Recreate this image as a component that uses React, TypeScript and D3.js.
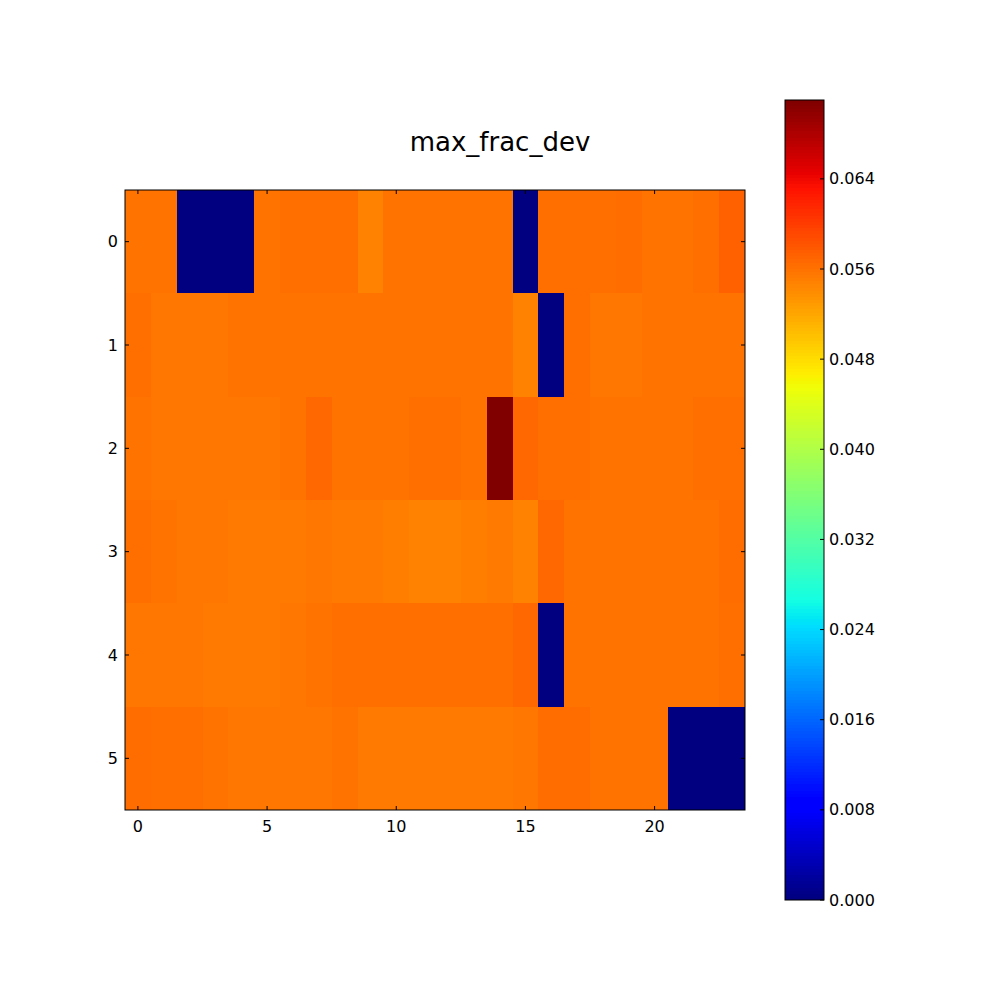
import React from "react";
import * as d3 from "d3";

const title = "max_frac_dev";
const rowLabels = [0, 1, 2, 3, 4, 5];
const xTickValues = [0, 5, 10, 15, 20];
const cbTicks = [0.0, 0.008, 0.016, 0.024, 0.032, 0.04, 0.048, 0.056, 0.064];
const vmin = 0;
const vmax = 0.071;

const row0 = [0.0560, 0.0558, 0, 0, 0, 0.0558, 0.0562, 0.0563, 0.0563, 0.0548, 0.0560, 0.0560, 0.0560, 0.0558, 0.0558, 0, 0.0563, 0.0563, 0.0561, 0.0565, 0.0560, 0.0560, 0.0563, 0.0572];
const row1 = [0.0563, 0.0556, 0.0556, 0.0556, 0.0560, 0.0558, 0.0560, 0.0560, 0.0560, 0.0558, 0.0558, 0.0558, 0.0558, 0.0560, 0.0560, 0.0548, 0, 0.0562, 0.0555, 0.0555, 0.0558, 0.0558, 0.0558, 0.0558];
const row2 = [0.0558, 0.0555, 0.0555, 0.0555, 0.0555, 0.0556, 0.0560, 0.0568, 0.0560, 0.0558, 0.0558, 0.0561, 0.0561, 0.0558, 0.0710, 0.0566, 0.0563, 0.0563, 0.0560, 0.0560, 0.0560, 0.0560, 0.0563, 0.0563];
const row3 = [0.0563, 0.0560, 0.0556, 0.0556, 0.0554, 0.0554, 0.0554, 0.0556, 0.0554, 0.0552, 0.0550, 0.0548, 0.0548, 0.0550, 0.0552, 0.0548, 0.0566, 0.0560, 0.0558, 0.0558, 0.0558, 0.0558, 0.0558, 0.0565];
const row4 = [0.0555, 0.0555, 0.0555, 0.0552, 0.0552, 0.0552, 0.0555, 0.0560, 0.0563, 0.0561, 0.0561, 0.0561, 0.0561, 0.0561, 0.0561, 0.0566, 0, 0.0558, 0.0558, 0.0558, 0.0558, 0.0560, 0.0560, 0.0563];
const row5 = [0.0565, 0.0561, 0.0561, 0.0558, 0.0556, 0.0555, 0.0555, 0.0556, 0.0558, 0.0553, 0.0553, 0.0552, 0.0552, 0.0552, 0.0553, 0.0555, 0.0565, 0.0565, 0.0560, 0.0558, 0.0558, 0, 0, 0];
const rows = [row0, row1, row2, row3, row4, row5];

// matplotlib jet colormap
const jetSeg: Record<string, [number, number][]> = {
  r: [[0, 0], [0.35, 0], [0.66, 1], [0.89, 1], [1, 0.5]],
  g: [[0, 0], [0.125, 0], [0.375, 1], [0.64, 1], [0.91, 0], [1, 0]],
  b: [[0, 0.5], [0.11, 1], [0.34, 1], [0.65, 0], [1, 0]],
};
function seg(pts: [number, number][], t: number) {
  for (let i = 1; i < pts.length; i++) {
    if (t <= pts[i][0]) {
      const [x0, y0] = pts[i - 1];
      const [x1, y1] = pts[i];
      return y0 + ((t - x0) / (x1 - x0)) * (y1 - y0);
    }
  }
  return pts[pts.length - 1][1];
}
function jet(t: number) {
  const tt = Math.max(0, Math.min(1, t));
  const q = Math.min(255, Math.floor(tt * 256)) / 255;
  const r = Math.round(seg(jetSeg.r, q) * 255);
  const g = Math.round(seg(jetSeg.g, q) * 255);
  const b = Math.round(seg(jetSeg.b, q) * 255);
  return `rgb(${r},${g},${b})`;
}

export default function App() {
  const W = 1000, H = 1000;
  const left = 125, right = 745, top = 190, bottom = 810;
  const nCols = row0.length;
  const x = d3.scaleLinear().domain([-0.5, nCols - 0.5]).range([left, right]);
  const y = d3.scaleLinear().domain([-0.5, rows.length - 0.5]).range([top, bottom]);
  const norm = d3.scaleLinear().domain([vmin, vmax]).range([0, 1]);

  const cbLeft = 785, cbRight = 824, cbTop = 100, cbBottom = 900;
  const cy = d3.scaleLinear().domain([vmin, vmax]).range([cbBottom, cbTop]);
  const nLevels = 256;
  const levels = d3.range(nLevels).map((i) => vmin + ((vmax - vmin) * i) / nLevels);
  const step = (vmax - vmin) / nLevels;

  const font = "DejaVu Sans, sans-serif";
  const tickLen = 4;

  return (
    <svg width={W} height={H} style={{ position: "absolute", left: 0, top: 0, background: "#fff" }}>
      <rect x={0} y={0} width={W} height={H} fill="#fff" />
      <text x={500} y={151} textAnchor="middle" fontFamily={font} fontSize={26} fill="#000">
        {title}
      </text>
      <g shapeRendering="crispEdges">
        {rows.map((row, ri) =>
          row.map((v, ci) => (
            <rect
              key={`${ri}-${ci}`}
              x={Math.round(x(ci - 0.5))}
              y={Math.round(y(ri - 0.5))}
              width={Math.round(x(ci + 0.5)) - Math.round(x(ci - 0.5))}
              height={Math.round(y(ri + 0.5)) - Math.round(y(ri - 0.5))}
              fill={jet(norm(v))}
            />
          ))
        )}
      </g>
      <rect x={left} y={top} width={right - left} height={bottom - top} fill="none" stroke="#000" strokeWidth={1} />
      {xTickValues.map((t) => (
        <g key={`xt${t}`}>
          <line x1={x(t)} x2={x(t)} y1={bottom} y2={bottom - tickLen} stroke="#000" />
          <line x1={x(t)} x2={x(t)} y1={top} y2={top + tickLen} stroke="#000" />
          <text x={x(t)} y={bottom + 22} textAnchor="middle" fontFamily={font} fontSize={16} fill="#000">
            {t}
          </text>
        </g>
      ))}
      {rowLabels.map((t) => (
        <g key={`yt${t}`}>
          <line x1={left} x2={left + tickLen} y1={y(t)} y2={y(t)} stroke="#000" />
          <line x1={right} x2={right - tickLen} y1={y(t)} y2={y(t)} stroke="#000" />
          <text x={left - 7} y={y(t)} dy="0.35em" textAnchor="end" fontFamily={font} fontSize={16} fill="#000">
            {t}
          </text>
        </g>
      ))}
      <g shapeRendering="crispEdges">
        {levels.map((v, i) => (
          <rect
            key={`cb${i}`}
            x={cbLeft}
            y={Math.round(cy(v + step))}
            width={cbRight - cbLeft}
            height={Math.round(cy(v)) - Math.round(cy(v + step))}
            fill={jet(norm(v + step / 2))}
          />
        ))}
      </g>
      <rect x={cbLeft} y={cbTop} width={cbRight - cbLeft} height={cbBottom - cbTop} fill="none" stroke="#000" strokeWidth={1} />
      {cbTicks.map((t) => (
        <g key={`cbt${t}`}>
          <line x1={cbRight} x2={cbRight - tickLen} y1={cy(t)} y2={cy(t)} stroke="#000" />
          <text x={cbRight + 5} y={cy(t)} dy="0.35em" fontFamily={font} fontSize={16} fill="#000">
            {t.toFixed(3)}
          </text>
        </g>
      ))}
    </svg>
  );
}
